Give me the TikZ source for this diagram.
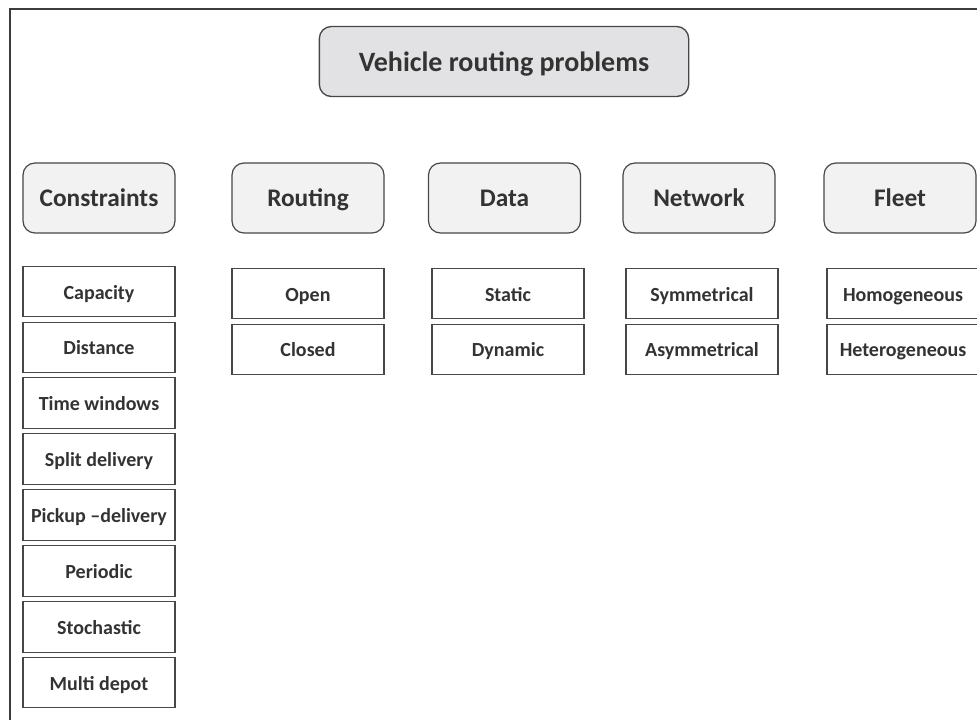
\documentclass[tikz,border=0pt]{standalone}
\usepackage{fontspec}
\setmainfont{Carlito}
\usetikzlibrary{positioning}
\definecolor{cframe}{HTML}{3C3C3C}
\definecolor{cline}{HTML}{474747}
\definecolor{ctext}{HTML}{333333}
\definecolor{chead}{HTML}{E2E2E4}
\definecolor{ccat}{HTML}{F3F2F3}
\tikzset{
  every picture/.style={font=\bfseries, text=ctext},
  head/.style={draw=cline, fill=chead, rounded corners=9pt, minimum width=277pt, minimum height=52.5pt, line width=1pt, text height=14.6pt, text depth=0pt, font=\bfseries\fontsize{21}{25}\selectfont},
  cat/.style={draw=cline, fill=ccat, rounded corners=9pt, minimum width=114pt, minimum height=52.5pt, line width=0.9pt, text height=13.4pt, text depth=0pt, font=\bfseries\fontsize{19}{23}\selectfont},
  item/.style={draw=cline, fill=white, minimum width=114pt, minimum height=38pt, inner sep=2pt, line width=0.8pt, text height=11.4pt, text depth=0pt, font=\bfseries\fontsize{15}{18}\selectfont},
}

\begin{document}
\begin{tikzpicture}[x=0.75pt, y=-0.75pt]
  \clip (0,0) rectangle (977,720);
  % outer frame
  \draw[cframe, line width=2.2pt] (10,9) rectangle (1100,800);
  % title
  \node[head] (vrp) at (504,61.5) {Vehicle routing problems};
  % categories
  \node[cat] (constraints) at (99,198) {Constraints};
  \node[cat] (routing) at (308,198) {Routing};
  \node[cat] (data) at (504.5,198) {Data};
  \node[cat] (network) at (699,198) {Network};
  \node[cat] (fleet) at (900,198) {Fleet};
  % constraints
  \node[item] (capacity) at (99,291.5) {Capacity};
  \node[item, below=3.1pt of capacity] (distance) {Distance};
  \node[item, below=3.1pt of distance] (timewin) {Time windows};
  \node[item, below=3.1pt of timewin] (split) {Split delivery};
  \node[item, below=3.1pt of split] (pickup) {Pickup –delivery};
  \node[item, below=3.1pt of pickup] (periodic) {Periodic};
  \node[item, below=3.1pt of periodic] (stochastic) {Stochastic};
  \node[item, below=3.1pt of stochastic] (multidepot) {Multi depot};
  % routing
  \node[item] (open) at (308,293.5) {Open};
  \node[item, below=3.1pt of open] (closed) {Closed};
  % data
  \node[item] (static) at (508,293.5) {Static};
  \node[item, below=3.1pt of static] (dynamic) {Dynamic};
  % network
  \node[item] (sym) at (702,293.5) {Symmetrical};
  \node[item, below=3.1pt of sym] (asym) {Asymmetrical};
  % fleet
  \node[item] (homo) at (903,293.5) {Homogeneous};
  \node[item, below=3.1pt of homo] (hetero) {Heterogeneous};
\end{tikzpicture}
\end{document}
